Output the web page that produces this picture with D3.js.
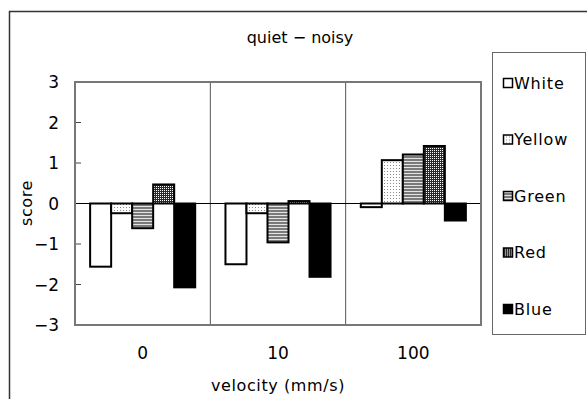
<!DOCTYPE html>
<html>
<head>
<meta charset="utf-8">
<script src="https://cdn.jsdelivr.net/npm/d3@7"></script>
<style>
  body { margin: 0; background: #fff; }
  svg { display: block; font-family: "DejaVu Sans", sans-serif; fill: #000; }
</style>
</head>
<body>
<svg id="chart" width="587" height="399"></svg>
<script>
// data
const categories = ["0", "10", "100"];
const seriesNames = ["White", "Yellow", "Green", "Red", "Blue"];
const whiteValues = [-1.56, -1.50, -0.09];
const yellowValues = [-0.24, -0.24, 1.07];
const greenValues = [-0.61, -0.96, 1.21];
const redValues = [0.47, 0.06, 1.42];
const blueValues = [-2.07, -1.81, -0.42];
const yTicks = [-3, -2, -1, 0, 1, 2, 3];

const allValues = [whiteValues, yellowValues, greenValues, redValues, blueValues];
const rows = [];
categories.forEach((c, ci) => {
  seriesNames.forEach((s, si) => rows.push({ cat: c, series: s, value: allValues[si][ci] }));
});

const svg = d3.select("#chart");
const plot = { left: 75, top: 82, right: 481, bottom: 325 };

// patterns
const defs = svg.append("defs");
const pYellow = defs.append("pattern").attr("id", "pat-Yellow")
  .attr("patternUnits", "userSpaceOnUse").attr("width", 3).attr("height", 3);
pYellow.append("rect").attr("width", 3).attr("height", 3).attr("fill", "#fff");
pYellow.append("rect").attr("x", 0).attr("y", 0).attr("width", 1).attr("height", 1).attr("fill", "#888");

const pGreen = defs.append("pattern").attr("id", "pat-Green")
  .attr("patternUnits", "userSpaceOnUse").attr("width", 4).attr("height", 3);
pGreen.append("rect").attr("width", 4).attr("height", 3).attr("fill", "#e4e4e4");
pGreen.append("rect").attr("width", 4).attr("height", 2).attr("fill", "#7a7a7a");

const pRed = defs.append("pattern").attr("id", "pat-Red")
  .attr("patternUnits", "userSpaceOnUse").attr("width", 2).attr("height", 2);
pRed.append("rect").attr("width", 2).attr("height", 2).attr("fill", "#2a2a2a");
pRed.append("rect").attr("width", 1).attr("height", 1).attr("fill", "#fff");

function fillFor(s) {
  if (s === "White") return "#fff";
  if (s === "Blue") return "#000";
  return `url(#pat-${s})`;
}

// outer frame
svg.append("rect")
  .attr("x", 9.5).attr("y", 11.5).attr("width", 620).attr("height", 420)
  .attr("fill", "none").attr("stroke", "#333").attr("stroke-width", 1.5);

// scales
const x0 = d3.scaleBand().domain(categories).range([plot.left, plot.right]).paddingInner(0).paddingOuter(0);
const x1 = d3.scaleBand().domain(seriesNames).range([0, x0.bandwidth()]).paddingOuter(0.72).paddingInner(0);
const y = d3.scaleLinear().domain([-3, 3]).range([plot.bottom, plot.top]);

// category separators
svg.selectAll(".sep")
  .data(categories.slice(1))
  .enter().append("line")
  .attr("x1", d => x0(d)).attr("x2", d => x0(d))
  .attr("y1", plot.top).attr("y2", plot.bottom)
  .attr("stroke", "#555").attr("stroke-width", 1);

// y ticks (inward)
svg.selectAll(".ytick")
  .data(yTicks)
  .enter().append("line")
  .attr("x1", plot.left).attr("x2", plot.left + 6)
  .attr("y1", d => y(d)).attr("y2", d => y(d))
  .attr("stroke", "#444").attr("stroke-width", 1);

svg.selectAll(".ylabel")
  .data(yTicks)
  .enter().append("text")
  .attr("x", 59).attr("y", d => y(d))
  .attr("dy", "0.36em")
  .attr("text-anchor", "end")
  .attr("font-size", 17)
  .text(d => d < 0 ? "−" + Math.abs(d) : d);

// bars
svg.selectAll(".bar")
  .data(rows)
  .enter().append("rect")
  .attr("class", "bar")
  .attr("x", d => x0(d.cat) + x1(d.series))
  .attr("y", d => y(Math.max(0, d.value)))
  .attr("width", x1.bandwidth())
  .attr("height", d => Math.abs(y(d.value) - y(0)))
  .attr("fill", d => fillFor(d.series))
  .attr("stroke", "#000")
  .attr("stroke-width", 2);

// zero line
svg.append("line")
  .attr("x1", plot.left).attr("x2", plot.right)
  .attr("y1", y(0)).attr("y2", y(0))
  .attr("stroke", "#000").attr("stroke-width", 1);

// plot border
svg.append("rect")
  .attr("x", plot.left).attr("y", plot.top)
  .attr("width", plot.right - plot.left).attr("height", plot.bottom - plot.top)
  .attr("fill", "none").attr("stroke", "#777").attr("stroke-width", 2);

// x labels
svg.selectAll(".xlabel")
  .data(categories)
  .enter().append("text")
  .attr("x", d => x0(d) + x0.bandwidth() / 2)
  .attr("y", 359)
  .attr("text-anchor", "middle")
  .attr("font-size", 17)
  .text(d => d);

// titles
svg.append("text")
  .attr("x", 300).attr("y", 43)
  .attr("text-anchor", "middle").attr("font-size", 16)
  .text("quiet − noisy");

svg.append("text")
  .attr("x", (plot.left + plot.right) / 2).attr("y", 391)
  .attr("text-anchor", "middle").attr("font-size", 16)
  .attr("letter-spacing", 0.6)
  .text("velocity (mm/s)");

svg.append("text")
  .attr("transform", "translate(32,203) rotate(-90)")
  .attr("text-anchor", "middle").attr("font-size", 16)
  .attr("letter-spacing", 0.6)
  .text("score");

// legend
const legend = svg.append("g");
legend.append("rect")
  .attr("x", 492.5).attr("y", 52.5).attr("width", 93).attr("height", 282)
  .attr("fill", "#fff").attr("stroke", "#666").attr("stroke-width", 1);

const ly = d3.scalePoint().domain(seriesNames).range([83, 309]);
const items = legend.selectAll(".item")
  .data(seriesNames)
  .enter().append("g")
  .attr("transform", d => `translate(503,${ly(d)})`);
items.append("rect")
  .attr("x", 0.5).attr("y", -4.5).attr("width", 9).attr("height", 9)
  .attr("fill", d => fillFor(d))
  .attr("stroke", "#000").attr("stroke-width", 1.5);
items.append("text")
  .attr("x", 11).attr("dy", "0.36em")
  .attr("font-size", 16)
  .attr("letter-spacing", 0.8)
  .text(d => d);
</script>
</body>
</html>
